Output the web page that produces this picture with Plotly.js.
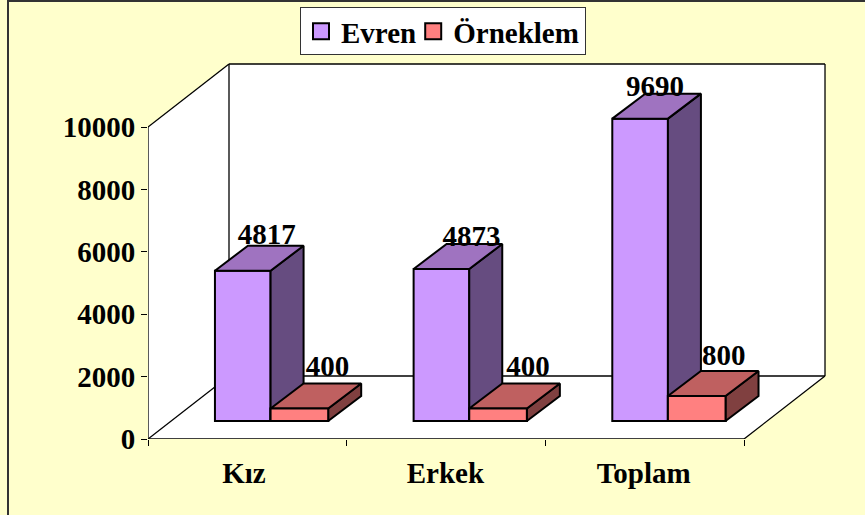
<!DOCTYPE html>
<html>
<head>
<meta charset="utf-8">
<script src="https://cdn.plot.ly/plotly-3.0.1.min.js"></script>
<style>
html,body{margin:0;padding:0;background:#FFFFCC;width:865px;height:515px;overflow:hidden}
#chart{position:absolute;left:0;top:0;width:865px;height:515px}
.edge{position:absolute;background:#333;pointer-events:none}
</style>
</head>
<body>
<div id="chart"></div>
<div class="edge" style="left:7px;top:0px;width:2px;height:515px"></div>
<div class="edge" style="left:7px;top:0px;width:858px;height:2px"></div>
<script>
// Data
const categories = ["Kız", "Erkek", "Toplam"];
const evren = [4817, 4873, 9690];
const orneklem = [400, 400, 800];
const yTicks = [0, 2000, 4000, 6000, 8000, 10000];

// Layout constants (pixel scale of axes: 198.67 px per category, 0.0312 px per unit)
const W = 865, H = 515, L = 148, R = 830, T = 2, B = 439;
const PX_X = 198.67, PX_Y = 0.0312;
const wallDX = 81 / PX_X, wallDY = 63 / PX_Y;      // depth of the box
const barDX = 33 / PX_X, barDY = 25 / PX_Y;        // depth of one bar
const floorBase = 18 / PX_Y;                       // bars stand forward on the floor
const axisMaxX = 3, axisMaxY = 10000;
const evrenStart = 0.337, evrenWidth = 0.28, ornStart = 0.617, ornWidth = 0.29;
const evrenLabelDX = [24, 30, 15], ornLabelDX = [28, 30, 27];
const evrenLabelDY = [34, 30, 30], ornLabelDY = [40, 40, 38];
const categoryTickPos = [0.483, 1.497, 2.495];
const FONT = "'Liberation Serif','Times New Roman',serif";
const FS = 29;

function facePolys(values, start, width) {
  const side = {x: [], y: []}, top = {x: [], y: []}, front = {x: [], y: []};
  values.forEach((v, i) => {
    const x0 = i + start, x1 = x0 + width, y0 = floorBase, y1 = floorBase + v;
    side.x.push(x1, x1 + barDX, x1 + barDX, x1, x1, null);
    side.y.push(y0, y0 + barDY, y1 + barDY, y1, y0, null);
    top.x.push(x0, x1, x1 + barDX, x0 + barDX, x0, null);
    top.y.push(y1, y1, y1 + barDY, y1 + barDY, y1, null);
    front.x.push(x0, x1, x1, x0, x0, null);
    front.y.push(y0, y0, y1, y1, y0, null);
  });
  return {side, top, front};
}
function polyTrace(p, color) {
  return {type: "scatter", mode: "lines", x: p.x, y: p.y, fill: "toself", fillcolor: color,
    line: {color: "#000", width: 2}, showlegend: false, hoverinfo: "skip"};
}
function barTrace(name, values, start, width, color) {
  return {type: "bar", name, x: values.map((_, i) => i + start + width / 2), y: values,
    base: values.map(() => floorBase), width: values.map(() => width),
    marker: {color, line: {color: "#000", width: 2}}, hovertemplate: name + ": %{y}<extra></extra>"};
}
function labelTrace(values, start, width, dx, dy) {
  return {type: "scatter", mode: "text",
    x: values.map((_, i) => i + start + width / 2 + dx[i] / PX_X),
    y: values.map((v, i) => floorBase + v + dy[i] / PX_Y),
    text: values.map(String), textposition: "middle center",
    textfont: {family: FONT, size: FS, color: "#000", weight: 700},
    showlegend: false, hoverinfo: "skip", cliponaxis: false};
}

const ef = facePolys(evren, evrenStart, evrenWidth);
const of = facePolys(orneklem, ornStart, ornWidth);

const traces = [
  barTrace("Evren", evren, evrenStart, evrenWidth, "#CC99FF"),
  barTrace("Örneklem", orneklem, ornStart, ornWidth, "#FF8080"),
  polyTrace(ef.side, "#664C80"),
  polyTrace(ef.top, "#9F73C0"),
  polyTrace(of.side, "#804040"),
  polyTrace(of.top, "#BF6060"),
  polyTrace(of.front, "#FF8080"),
  labelTrace(evren, evrenStart, evrenWidth, evrenLabelDX, evrenLabelDY),
  labelTrace(orneklem, ornStart, ornWidth, ornLabelDX, ornLabelDY)
];

function seg(x0, y0, x1, y1, w) {
  return {type: "line", layer: "below", xref: "x", yref: "y", x0, y0, x1, y1,
    line: {color: "#000", width: w || 1.3}};
}
const mx = axisMaxX, my = axisMaxY, dx = wallDX, dy = wallDY;
const shapes = [
  {type: "path", layer: "below", xref: "x", yref: "y", fillcolor: "#FFFFFF", line: {width: 0},
    path: `M0,0 L0,${my} L${dx},${my + dy} L${mx + dx},${my + dy} L${mx + dx},${dy} L${mx},0 Z`},
  seg(0, 0, 0, my), seg(0, 0, mx, 0),
  seg(0, 0, dx, dy), seg(0, my, dx, my + dy),
  seg(dx, dy, dx, my + dy), seg(dx, my + dy, mx + dx, my + dy),
  seg(mx + dx, my + dy, mx + dx, dy), seg(dx, dy, mx + dx, dy),
  seg(mx, 0, mx + dx, dy)
];

const layout = {
  width: W, height: H, autosize: false,
  margin: {l: L, r: W - R, t: T, b: H - B, pad: 0},
  paper_bgcolor: "#FFFFCC", plot_bgcolor: "rgba(0,0,0,0)",
  barmode: "overlay", showlegend: true,
  font: {family: FONT, size: FS, color: "#000", weight: 700},
  shapes,
  xaxis: {
    range: [0, (R - L) / PX_X], showgrid: false, zeroline: false, showline: false,
    tickmode: "array", tickvals: categoryTickPos, ticktext: categories,
    ticks: "outside", ticklen: 8, tickcolor: "rgba(0,0,0,0)",
    tickfont: {family: FONT, size: FS, color: "#000", weight: 700},
    minor: {ticks: "outside", ticklen: 6, tickwidth: 1.3, tickcolor: "#000", tick0: 0, dtick: 1, showgrid: false}
  },
  yaxis: {
    range: [0, (B - T) / PX_Y], showgrid: false, zeroline: false, showline: false,
    tickmode: "array", tickvals: yTicks, ticktext: yTicks.map(String),
    ticks: "outside", ticklen: 6, tickwidth: 1.3, tickcolor: "#000",
    tickfont: {family: FONT, size: FS, color: "#000", weight: 700}
  },
  legend: {
    orientation: "h", xref: "paper", yref: "paper",
    x: (300 - L) / (R - L), y: (B - 7) / (B - T), xanchor: "left", yanchor: "top",
    bgcolor: "#FFFFFF", bordercolor: "#333", borderwidth: 1,
    font: {family: FONT, size: FS, color: "#000", weight: 700},
    traceorder: "normal", itemclick: false, itemdoubleclick: false
  }
};
Plotly.newPlot("chart", traces, layout, {displayModeBar: false}).then(gd => {
  // Match the reference legend: larger swatches, tighter entries, smaller box
  gd.querySelectorAll(".legend .legendpoints path").forEach(p => p.setAttribute("d", "M8,8H-8V-8H8Z"));
  gd.querySelectorAll(".legend .traces").forEach((g, i) => {
    const m = /translate\(\s*([-\d.]+)[ ,]+([-\d.]+)/.exec(g.getAttribute("transform"));
    if (m) g.setAttribute("transform", `translate(${+m[1] - (i ? 8 : 0)},${+m[2] - 2})`);
  });
  const bg = gd.querySelector(".legend rect.bg");
  if (bg) { bg.setAttribute("width", 285); bg.setAttribute("height", 47); }
});
</script>
</body>
</html>
